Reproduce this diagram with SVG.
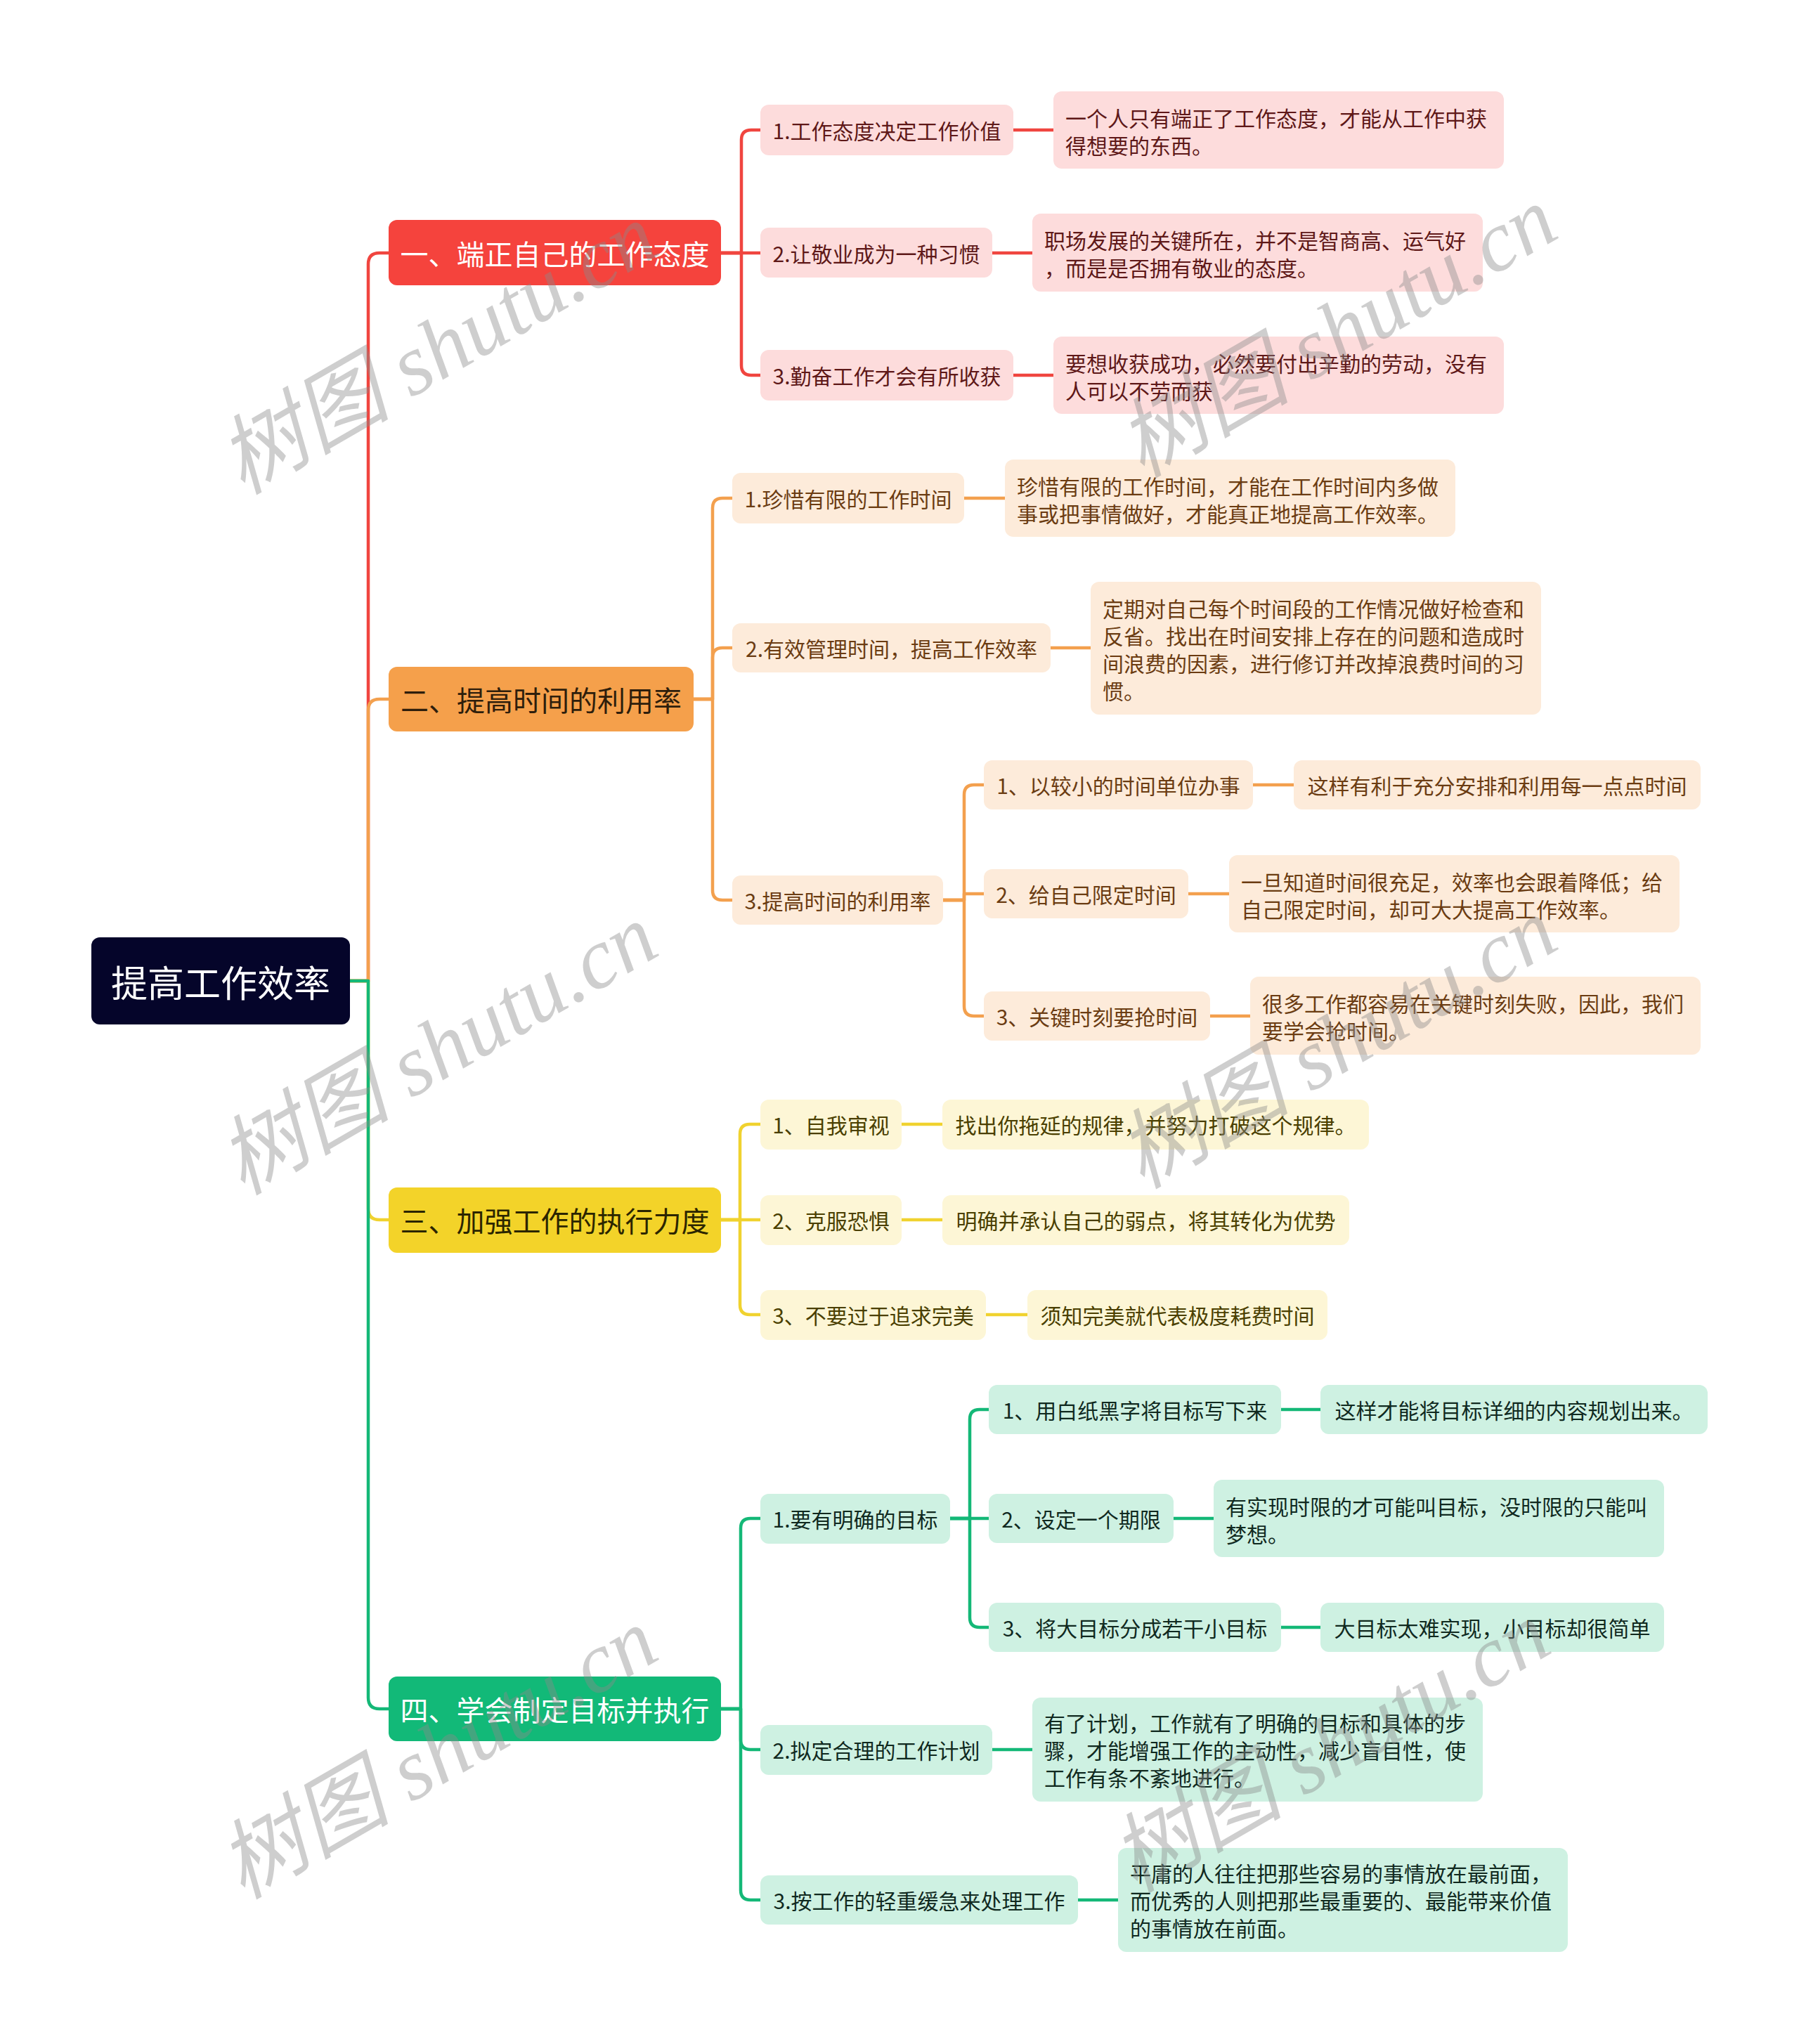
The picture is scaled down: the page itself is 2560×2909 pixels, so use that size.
<svg xmlns="http://www.w3.org/2000/svg" width="2560" height="2909" viewBox="0 0 2560 2909">
<style>
text { font-family: "Noto Sans CJK SC", "Noto Sans", sans-serif; }
.root text { font-size: 52px; fill: #ffffff; }
.l1 text { font-size: 40px; }
.l2 text { font-size: 30px; }
.mid { text-anchor: middle; dominant-baseline: central; }
.ml { dominant-baseline: central; }
.red rect { fill: #fddcdc; } .red text { fill: #5e1818; }
.org rect { fill: #fdebda; } .org text { fill: #6b3c12; }
.yel rect { fill: #fdf6d6; } .yel text { fill: #4a3f00; }
.grn rect { fill: #cef1e2; } .grn text { fill: #10291f; }
.cn path { fill: none; stroke-width: 4.5; stroke-linecap: round; stroke-linejoin: round; }
.wm { font-family: "Liberation Serif", "Noto Sans CJK SC", serif; font-style: italic; font-size: 123px; fill: #8a8a8a; fill-opacity: 0.42; }
</style>
<rect width="2560" height="2909" fill="#ffffff"/>
<g id="connectors" class="cn">
  <path stroke="#f0453f" d="M498 1396 H524 V376 Q524 360 540 360 H553"/>
  <path stroke="#f3a04e" d="M498 1396 H524 V1011 Q524 995 540 995 H553"/>
  <path stroke="#f0d22f" d="M498 1396 H524 V1720 Q524 1736 540 1736 H553"/>
  <path stroke="#14b877" d="M498 1396 H524 V2416 Q524 2432 540 2432 H553"/>
  <g stroke="#f0453f">
    <path d="M1026 360 H1055 V199 Q1055 185 1069 185 H1082"/>
    <path d="M1026 360 H1082"/>
    <path d="M1026 360 H1055 V520 Q1055 534 1069 534 H1082"/>
    <path d="M1442 185 H1499"/>
    <path d="M1412 360 H1469"/>
    <path d="M1442 534 H1499"/>
  </g>
  <g stroke="#f3a04e">
    <path d="M987 995 H1014 V723 Q1014 709 1028 709 H1042"/>
    <path d="M987 995 H1014 V936 Q1014 922 1028 922 H1042"/>
    <path d="M987 995 H1014 V1267 Q1014 1281 1028 1281 H1042"/>
    <path d="M1372 709 H1430"/>
    <path d="M1495 922 H1552"/>
    <path d="M1342 1281 H1372 V1131 Q1372 1117 1386 1117 H1400"/>
    <path d="M1342 1281 H1372 V1272 H1400"/>
    <path d="M1342 1281 H1372 V1432 Q1372 1446 1386 1446 H1400"/>
    <path d="M1783 1117 H1841"/>
    <path d="M1691 1272 H1749"/>
    <path d="M1722 1446 H1779"/>
  </g>
  <g stroke="#f0d22f">
    <path d="M1026 1736 H1053 V1614 Q1053 1600 1067 1600 H1082"/>
    <path d="M1026 1736 H1082"/>
    <path d="M1026 1736 H1053 V1857 Q1053 1871 1067 1871 H1082"/>
    <path d="M1283 1600 H1341"/>
    <path d="M1283 1736 H1341"/>
    <path d="M1403 1871 H1462"/>
  </g>
  <g stroke="#14b877">
    <path d="M1026 2432 H1054 V2175 Q1054 2161 1068 2161 H1082"/>
    <path d="M1026 2432 H1054 V2476 Q1054 2490 1068 2490 H1082"/>
    <path d="M1026 2432 H1054 V2690 Q1054 2704 1068 2704 H1082"/>
    <path d="M1412 2490 H1469"/>
    <path d="M1534 2704 H1591"/>
    <path d="M1352 2161 H1380 V2020 Q1380 2006 1394 2006 H1407"/>
    <path d="M1352 2161 H1407"/>
    <path d="M1352 2161 H1380 V2302 Q1380 2316 1394 2316 H1407"/>
    <path d="M1823 2006 H1879"/>
    <path d="M1670 2161 H1727"/>
    <path d="M1823 2316 H1879"/>
  </g>
</g>

<g id="root" class="root">
  <rect x="130" y="1334" width="368" height="124" rx="12" fill="#05052a"/>
  <text x="314" y="1396" class="mid">提高工作效率</text>
</g>

<g id="b1" class="l1"><rect x="553" y="313" width="473" height="93" rx="12" fill="#f5433d"/><text x="789.5" y="360" class="mid" fill="#ffffff">一、端正自己的工作态度</text></g>
<g id="b2" class="l1"><rect x="553" y="949" width="434" height="92" rx="12" fill="#f5a04b"/><text x="770" y="995" class="mid" fill="#2e1e0c">二、提高时间的利用率</text></g>
<g id="b3" class="l1"><rect x="553" y="1690" width="473" height="93" rx="12" fill="#f3d329"/><text x="789.5" y="1736" class="mid" fill="#2b2500">三、加强工作的执行力度</text></g>
<g id="b4" class="l1"><rect x="553" y="2386" width="473" height="92" rx="12" fill="#12b978"/><text x="789.5" y="2432" class="mid" fill="#ffffff">四、学会制定目标并执行</text></g>

<g class="l2 red">
  <g id="b1c1"><rect x="1082" y="149" width="360" height="72" rx="12"/><text x="1262" y="185" class="mid">1.工作态度决定工作价值</text></g>
  <g id="b1d1"><rect x="1499" y="130" width="641" height="110" rx="12"/><text class="ml"><tspan x="1516" y="167">一个人只有端正了工作态度，才能从工作中获</tspan><tspan x="1516" y="206">得想要的东西。</tspan></text></g>
  <g id="b1c2"><rect x="1082" y="324" width="330" height="71" rx="12"/><text x="1247" y="360" class="mid">2.让敬业成为一种习惯</text></g>
  <g id="b1d2"><rect x="1469" y="304" width="641" height="111" rx="12"/><text class="ml"><tspan x="1486" y="341">职场发展的关键所在，并不是智商高、运气好</tspan><tspan x="1486" y="380">，而是是否拥有敬业的态度。</tspan></text></g>
  <g id="b1c3"><rect x="1082" y="498" width="360" height="72" rx="12"/><text x="1262" y="534" class="mid">3.勤奋工作才会有所收获</text></g>
  <g id="b1d3"><rect x="1499" y="479" width="641" height="110" rx="12"/><text class="ml"><tspan x="1516" y="516">要想收获成功，必然要付出辛勤的劳动，没有</tspan><tspan x="1516" y="555">人可以不劳而获</tspan></text></g>
</g>

<g class="l2 org">
  <g id="b2c1"><rect x="1042" y="673" width="330" height="72" rx="12"/><text x="1207" y="709" class="mid">1.珍惜有限的工作时间</text></g>
  <g id="b2d1"><rect x="1430" y="654" width="641" height="110" rx="12"/><text class="ml"><tspan x="1447" y="691">珍惜有限的工作时间，才能在工作时间内多做</tspan><tspan x="1447" y="730">事或把事情做好，才能真正地提高工作效率。</tspan></text></g>
  <g id="b2c2"><rect x="1042" y="887" width="453" height="70" rx="12"/><text x="1268.5" y="922" class="mid">2.有效管理时间，提高工作效率</text></g>
  <g id="b2d2"><rect x="1552" y="828" width="641" height="189" rx="12"/><text class="ml"><tspan x="1569" y="865">定期对自己每个时间段的工作情况做好检查和</tspan><tspan x="1569" y="904">反省。找出在时间安排上存在的问题和造成时</tspan><tspan x="1569" y="943">间浪费的因素，进行修订并改掉浪费时间的习</tspan><tspan x="1569" y="982">惯。</tspan></text></g>
  <g id="b2c3"><rect x="1042" y="1246" width="300" height="70" rx="12"/><text x="1192" y="1281" class="mid">3.提高时间的利用率</text></g>
  <g id="b2g1"><rect x="1400" y="1082" width="383" height="70" rx="12"/><text x="1591.5" y="1117" class="mid">1、以较小的时间单位办事</text></g>
  <g id="b2e1"><rect x="1841" y="1082" width="579" height="70" rx="12"/><text x="2130.5" y="1117" class="mid">这样有利于充分安排和利用每一点点时间</text></g>
  <g id="b2g2"><rect x="1400" y="1237" width="291" height="70" rx="12"/><text x="1545.5" y="1272" class="mid">2、给自己限定时间</text></g>
  <g id="b2e2"><rect x="1749" y="1217" width="641" height="110" rx="12"/><text class="ml"><tspan x="1766" y="1254">一旦知道时间很充足，效率也会跟着降低；给</tspan><tspan x="1766" y="1293">自己限定时间，却可大大提高工作效率。</tspan></text></g>
  <g id="b2g3"><rect x="1400" y="1411" width="322" height="70" rx="12"/><text x="1561" y="1446" class="mid">3、关键时刻要抢时间</text></g>
  <g id="b2e3"><rect x="1779" y="1390" width="641" height="111" rx="12"/><text class="ml"><tspan x="1796" y="1427">很多工作都容易在关键时刻失败，因此，我们</tspan><tspan x="1796" y="1466">要学会抢时间。</tspan></text></g>
</g>

<g class="l2 yel">
  <g id="b3c1"><rect x="1082" y="1565" width="201" height="71" rx="12"/><text x="1182.5" y="1600" class="mid">1、自我审视</text></g>
  <g id="b3d1"><rect x="1341" y="1565" width="607" height="71" rx="12"/><text x="1644.5" y="1600" class="mid">找出你拖延的规律，并努力打破这个规律。</text></g>
  <g id="b3c2"><rect x="1082" y="1701" width="201" height="71" rx="12"/><text x="1182.5" y="1736" class="mid">2、克服恐惧</text></g>
  <g id="b3d2"><rect x="1341" y="1701" width="579" height="71" rx="12"/><text x="1630.5" y="1736" class="mid">明确并承认自己的弱点，将其转化为优势</text></g>
  <g id="b3c3"><rect x="1082" y="1836" width="321" height="71" rx="12"/><text x="1242.5" y="1871" class="mid">3、不要过于追求完美</text></g>
  <g id="b3d3"><rect x="1462" y="1836" width="427" height="71" rx="12"/><text x="1675.5" y="1871" class="mid">须知完美就代表极度耗费时间</text></g>
</g>

<g class="l2 grn">
  <g id="b4c1"><rect x="1082" y="2126" width="270" height="71" rx="12"/><text x="1217" y="2161" class="mid">1.要有明确的目标</text></g>
  <g id="b4g1"><rect x="1407" y="1971" width="416" height="70" rx="12"/><text x="1615" y="2006" class="mid">1、用白纸黑字将目标写下来</text></g>
  <g id="b4e1"><rect x="1879" y="1971" width="551" height="70" rx="12"/><text x="2154.5" y="2006" class="mid">这样才能将目标详细的内容规划出来。</text></g>
  <g id="b4g2"><rect x="1407" y="2126" width="263" height="70" rx="12"/><text x="1538.5" y="2161" class="mid">2、设定一个期限</text></g>
  <g id="b4e2"><rect x="1727" y="2106" width="641" height="110" rx="12"/><text class="ml"><tspan x="1744" y="2143">有实现时限的才可能叫目标，没时限的只能叫</tspan><tspan x="1744" y="2182">梦想。</tspan></text></g>
  <g id="b4g3"><rect x="1407" y="2281" width="416" height="70" rx="12"/><text x="1615" y="2316" class="mid">3、将大目标分成若干小目标</text></g>
  <g id="b4e3"><rect x="1879" y="2281" width="489" height="70" rx="12"/><text x="2123.5" y="2316" class="mid">大目标太难实现，小目标却很简单</text></g>
  <g id="b4c2"><rect x="1082" y="2455" width="330" height="71" rx="12"/><text x="1247" y="2490" class="mid">2.拟定合理的工作计划</text></g>
  <g id="b4d2"><rect x="1469" y="2416" width="641" height="148" rx="12"/><text class="ml"><tspan x="1486" y="2451">有了计划，工作就有了明确的目标和具体的步</tspan><tspan x="1486" y="2490">骤，才能增强工作的主动性，减少盲目性，使</tspan><tspan x="1486" y="2529">工作有条不紊地进行。</tspan></text></g>
  <g id="b4c3"><rect x="1082" y="2669" width="452" height="70" rx="12"/><text x="1308" y="2704" class="mid">3.按工作的轻重缓急来处理工作</text></g>
  <g id="b4d3"><rect x="1591" y="2630" width="640" height="148" rx="12"/><text class="ml"><tspan x="1608" y="2665">平庸的人往往把那些容易的事情放在最前面，</tspan><tspan x="1608" y="2704">而优秀的人则把那些最重要的、最能带来价值</tspan><tspan x="1608" y="2743">的事情放在前面。</tspan></text></g>
</g>

<g id="watermarks">
  <text class="wm" transform="translate(345,705) rotate(-30)">树图 shutu.cn</text>
  <text class="wm" transform="translate(1625,681) rotate(-30)">树图 shutu.cn</text>
  <text class="wm" transform="translate(345,1702) rotate(-30)">树图 shutu.cn</text>
  <text class="wm" transform="translate(1625,1693) rotate(-30)">树图 shutu.cn</text>
  <text class="wm" transform="translate(345,2704) rotate(-30)">树图 shutu.cn</text>
  <text class="wm" transform="translate(1615,2695) rotate(-30)">树图 shutu.cn</text>
</g>
</svg>
